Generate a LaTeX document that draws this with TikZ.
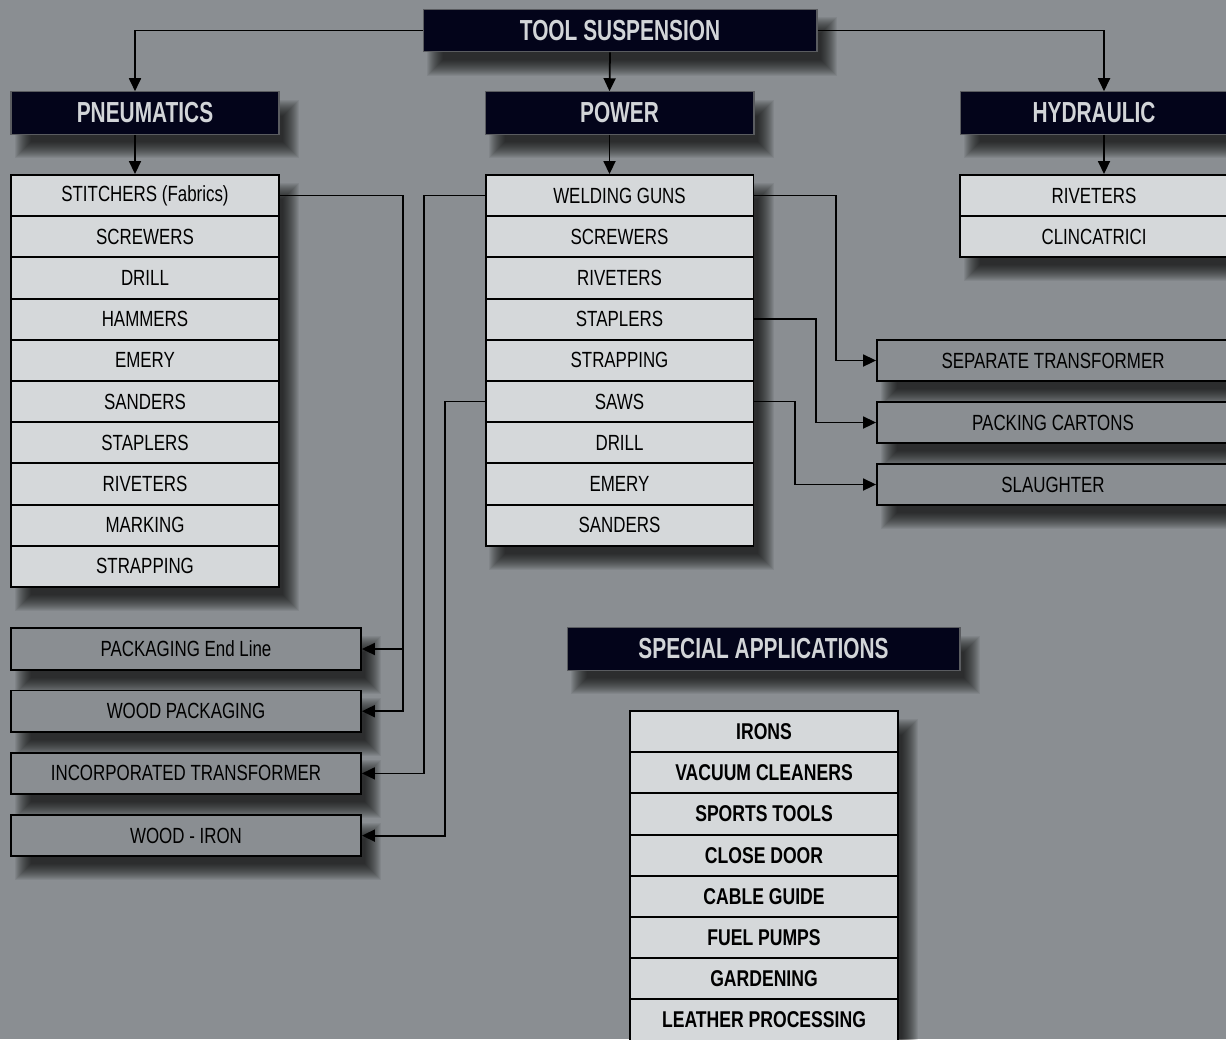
\documentclass[tikz,border=0pt]{standalone}
\usepackage{fontspec}
\setmainfont{Liberation Sans}[FakeStretch=0.77]
\newfontfamily\hdrfont{Liberation Sans}[FakeStretch=0.72]
\usetikzlibrary{arrows.meta,positioning}
\definecolor{bggray}{HTML}{8A8E92}
\definecolor{navy}{HTML}{03041A}
\definecolor{cellgray}{HTML}{D5D8DA}
\definecolor{paletext}{HTML}{D2D5D8}
\definecolor{hdrline}{HTML}{5A5C60}
% ombre floue : x1 y1 x2 y2
\newcommand{\ombre}[4]{%
  \foreach \k in {0,...,16}{\fill[black,opacity=0.06] ({#1+20-\k},{#2+24-\k}) rectangle ({#3+4+\k},{#4+8+\k});}}

\begin{document}
\begin{tikzpicture}[x=0.02cm, y=-0.02cm,
  hdr/.style={fill=navy, draw=hdrline, line width=0.6pt, text=paletext, font=\hdrfont\bfseries\fontsize{16.5}{18}\selectfont, minimum height=0.85cm, inner sep=0pt},
  cell/.style={fill=cellgray, draw=black, line width=1.1pt, font=\fontsize{12.5}{14}\selectfont, minimum width=5.36cm, minimum height=0.824cm, inner sep=0pt},
  side/.style={fill=bggray, draw=black, line width=1.1pt, font=\fontsize{12.5}{14}\selectfont, minimum height=0.83cm, inner sep=0pt},
  fleche/.style={line width=1pt, -{Triangle[length=0.26cm,width=0.24cm]}}]
\useasboundingbox (0,0) rectangle (1226,1039);
\fill[bggray] (0,0) rectangle (1226,1039);
% Ombres
\ombre{423}{9}{817}{52}
\ombre{11}{92}{279}{134}
\ombre{485}{92}{754}{134}
\ombre{960}{92}{1228}{134}
\ombre{11}{175}{279}{587}
\ombre{485}{175}{754}{546}
\ombre{960}{175}{1228}{257}
\ombre{877}{340}{1229}{381}
\ombre{877}{402}{1229}{443}
\ombre{877}{464}{1229}{505}
\ombre{11}{628}{361}{670}
\ombre{11}{690}{361}{732}
\ombre{11}{752}{361}{794}
\ombre{11}{815}{361}{856}
\ombre{567}{628}{960}{670}
\ombre{630}{711}{898}{1041}
% Titres
\node[hdr, minimum width=7.88cm] (tool) at (620,30.5) {TOOL SUSPENSION};
\node[hdr, minimum width=5.36cm] (pneu) at (145,113) {PNEUMATICS};
\node[hdr, minimum width=5.38cm] (power) at (619.5,113) {POWER};
\node[hdr, minimum width=5.36cm] (hydr) at (1094,113) {HYDRAULIC};
\node[hdr, minimum width=7.86cm] (spec) at (763.5,649) {SPECIAL APPLICATIONS};
% Listes
\foreach \t [count=\i] in {STITCHERS (Fabrics), SCREWERS, DRILL, HAMMERS, EMERY, SANDERS, STAPLERS, RIVETERS, MARKING, STRAPPING}
  \node[cell] (pn\i) at (145,{175+41.2*(\i-0.5)}) {\t};
\foreach \t [count=\i] in {WELDING GUNS, SCREWERS, RIVETERS, STAPLERS, STRAPPING, SAWS, DRILL, EMERY, SANDERS}
  \node[cell] (pw\i) at (619.5,{175+41.2*(\i-0.5)}) {\t};
\foreach \t [count=\i] in {RIVETERS, CLINCATRICI}
  \node[cell] (hy\i) at (1094,{175+41.2*(\i-0.5)}) {\t};
\foreach \t [count=\i] in {IRONS, VACUUM CLEANERS, SPORTS TOOLS, CLOSE DOOR, CABLE GUIDE, FUEL PUMPS, GARDENING, LEATHER PROCESSING}
  \node[cell, font=\bfseries\fontsize{13}{14}\selectfont] (sp\i) at (764,{711+41.2*(\i-0.5)}) {\t};
% Applications
\foreach \t [count=\i] in {SEPARATE TRANSFORMER, PACKING CARTONS, SLAUGHTER}
  \node[side, minimum width=7.04cm] (sr\i) at (1053,{360.5+62*(\i-1)}) {\t};
\foreach \t [count=\i] in {PACKAGING End Line, WOOD PACKAGING, INCORPORATED TRANSFORMER, WOOD - IRON}
  \node[side, minimum width=7cm] (sl\i) at (186,{649+62.2*(\i-1)}) {\t};
% Coudes
\coordinate (b1) at (403,0);
\coordinate (b2) at (424,0);
\coordinate (b3) at (445,0);
\coordinate (b4) at (836,0);
\coordinate (b5) at (816,0);
\coordinate (b6) at (795,0);
% Liaisons
\draw[fleche] (tool.west) -| ([xshift=-0.2cm]pneu.north);
\draw[fleche] ([xshift=-0.2cm]tool.south) -- ([xshift=-0.2cm]power.north);
\draw[fleche] (tool.east) -| ([xshift=0.2cm]hydr.north);
\draw[fleche] ([xshift=-0.2cm]pneu.south) -- ([xshift=-0.2cm]pn1.north);
\draw[fleche] ([xshift=-0.2cm]power.south) -- ([xshift=-0.2cm]pw1.north);
\draw[fleche] ([xshift=0.2cm]hydr.south) -- ([xshift=0.2cm]hy1.north);
\draw[fleche] (pn1.east) -| (b1 |- sl2.east) -- (sl2.east);
\draw[fleche] (b1 |- sl1.east) -- (sl1.east);
\draw[fleche] (pw1.west) -| (b2 |- sl3.east) -- (sl3.east);
\draw[fleche] (pw6.west) -| (b3 |- sl4.east) -- (sl4.east);
\draw[fleche] (pw1.east) -| (b4 |- sr1.west) -- (sr1.west);
\draw[fleche] (pw4.east) -| (b5 |- sr2.west) -- (sr2.west);
\draw[fleche] (pw6.east) -| (b6 |- sr3.west) -- (sr3.west);
\end{tikzpicture}
\end{document}
